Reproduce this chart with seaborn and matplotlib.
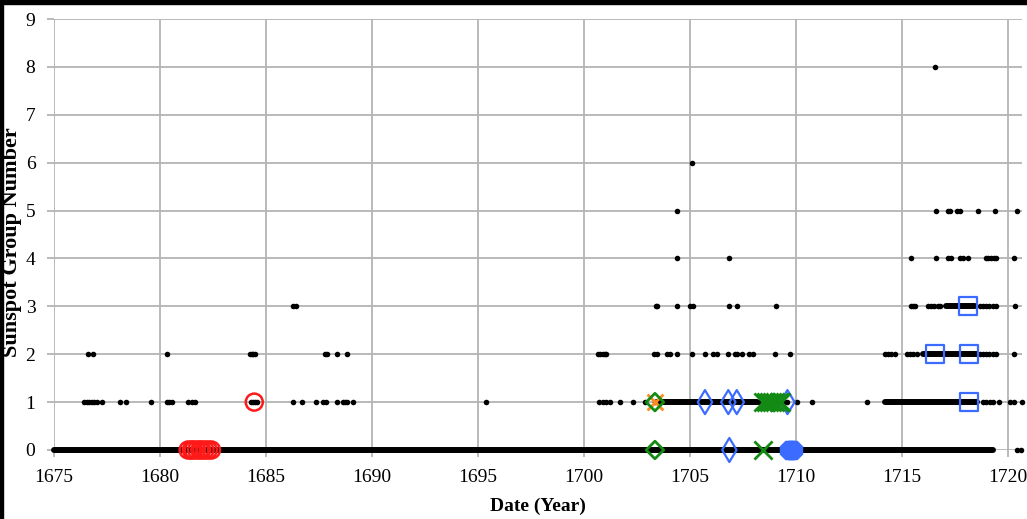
import matplotlib
matplotlib.use("Agg")
import matplotlib.pyplot as plt
import seaborn as sns
import pandas as pd
from matplotlib.patches import Rectangle

# ---------------- data ----------------
# sparse observed days, one list of dates (year) per sunspot group number
row0_years = [1720.43, 1720.66]
row1_years = [
    1676.45, 1676.57, 1676.69, 1676.80, 1676.93, 1677.04, 1677.29, 1678.14, 1678.42, 1679.60,
    1680.35, 1680.46, 1680.60, 1681.36, 1681.52, 1681.67, 1684.30, 1684.40, 1684.50, 1684.60,
    1686.31, 1686.71, 1687.38, 1687.73, 1687.84, 1688.36, 1688.64, 1688.75, 1688.83, 1689.14,
    1695.39, 1700.75, 1700.90, 1701.06, 1701.25, 1701.72, 1702.32, 1702.90, 1703.37,
    1708.30, 1708.60, 1708.90, 1709.20, 1709.45, 1709.62, 1710.06, 1710.76, 1713.36,
    1718.85, 1719.00, 1719.17, 1719.32, 1719.60, 1720.10, 1720.30, 1720.67,
]
row2_years = [
    1676.61, 1676.88, 1680.35, 1684.27, 1684.35, 1684.42, 1684.50, 1687.80, 1687.90, 1688.36, 1688.86,
    1700.70, 1700.80, 1700.90, 1701.00, 1701.06, 1703.33, 1703.48, 1703.95, 1704.08, 1704.40,
    1705.12, 1705.73, 1706.10, 1706.28, 1706.83, 1707.15, 1707.23, 1707.49, 1707.80, 1708.00,
    1709.03, 1709.74, 1714.22, 1714.35, 1714.50, 1714.70, 1715.27, 1715.40, 1715.55, 1715.72,
    1718.70, 1718.85, 1719.00, 1719.15, 1719.30, 1719.47, 1720.32,
]
row3_years = [
    1686.31, 1686.45, 1703.42, 1703.48, 1704.43, 1705.02, 1705.15, 1706.86, 1707.23, 1709.08,
    1715.45, 1715.55, 1715.64, 1716.26, 1716.40, 1716.55, 1716.70, 1716.80,
    1718.70, 1718.85, 1719.00, 1719.15, 1719.30, 1719.47, 1720.35,
]
row4_years = [
    1704.43, 1706.86, 1715.45, 1716.63, 1717.20, 1717.32, 1717.76, 1717.89, 1718.16,
    1718.99, 1719.10, 1719.22, 1719.35, 1719.47, 1720.32,
]
row5_years = [1704.43, 1716.63, 1717.20, 1717.29, 1717.63, 1717.76, 1718.60, 1719.42, 1720.43]
row6_years = [1705.12]
row8_years = [1716.60]

# dense stretches of daily observations: (start year, end year, group number)
span_start = [1675.00, 1703.45, 1714.22, 1716.00, 1717.10]
span_end = [1719.30, 1708.20, 1718.55, 1718.55, 1718.47]
span_group = [0, 1, 1, 2, 3]

# highlighted observers
red_years = [1681.35, 1681.50, 1681.60, 1681.75, 1681.90, 1682.00, 1682.15, 1682.30, 1682.45, 1684.47]
red_groups = [0, 0, 0, 0, 0, 0, 0, 0, 0, 1]
orange_years = [1703.37]
orange_groups = [1]
green_diamond_years = [1703.37, 1703.37]
green_diamond_groups = [1, 0]
blue_diamond_years = [1705.73, 1706.83, 1707.23, 1709.62, 1706.88]
blue_diamond_groups = [1, 1, 1, 1, 0]
green_x_years = [1708.45, 1708.60, 1708.75, 1708.90, 1709.05, 1709.20, 1709.30, 1708.48]
green_x_groups = [1, 1, 1, 1, 1, 1, 1, 0]
blue_fill_years = [1709.70, 1709.80, 1709.90]
blue_fill_groups = [0, 0, 0]
blue_square_years = [1718.14, 1716.60, 1718.18, 1718.18]
blue_square_groups = [3, 2, 2, 1]

x_ticks = [1675, 1680, 1685, 1690, 1695, 1700, 1705, 1710, 1715, 1720]
y_ticks = [0, 1, 2, 3, 4, 5, 6, 7, 8, 9]

# ---------------- figure ----------------
sns.set_theme(style="whitegrid")
plt.rcParams["font.family"] = ["Liberation Serif", "DejaVu Serif"]

fig = plt.figure(figsize=(10.27, 5.19), dpi=100)
ax = fig.add_axes([53.5 / 1027, 69 / 519, (1022 - 53.5) / 1027, (450 - 19) / 519])
ax.set_facecolor("white")

grid_c = "#b4b4b4"
ax.grid(True, color=grid_c, linewidth=1.3)
ax.set_axisbelow(True)
for s in ax.spines.values():
    s.set_visible(False)

# dense stretches
ax.hlines(span_group, span_start, span_end, colors="black", linewidth=4.3,
          capstyle="round", zorder=2, clip_on=False)

rows = {0: row0_years, 1: row1_years, 2: row2_years, 3: row3_years,
        4: row4_years, 5: row5_years, 6: row6_years, 8: row8_years}
dots = pd.concat([pd.DataFrame({"year": v, "groups": k}) for k, v in rows.items()],
                 ignore_index=True)
sns.scatterplot(data=dots, x="year", y="groups", ax=ax, color="black", s=16,
                linewidth=0, zorder=3, legend=False, clip_on=False)


def mk(xs, ys, **kw):
    d = pd.DataFrame({"year": xs, "groups": ys})
    sns.scatterplot(data=d, x="year", y="groups", ax=ax, legend=False,
                    clip_on=False, zorder=4, **kw)


mk(red_years, red_groups, marker="o", s=150, facecolors="none",
   edgecolor="#ff1a1a", linewidth=1.8)
mk(orange_years, orange_groups, marker="x", s=130, color="#ff8a1f", linewidth=2.0)
mk(green_diamond_years, green_diamond_groups, marker="D", s=80, facecolors="none",
   edgecolor="#138a13", linewidth=2.0)
mk(blue_diamond_years, blue_diamond_groups, marker="d", s=150, facecolors="none",
   edgecolor="#3c6cff", linewidth=1.6)
mk(green_x_years, green_x_groups, marker="x", s=170, color="#138a13", linewidth=2.0)
mk(blue_fill_years, blue_fill_groups, marker="8", s=230, color="#3c6cff", linewidth=0)
mk(blue_square_years, blue_square_groups, marker="s", s=170, facecolors="none",
   edgecolor="#3c6cff", linewidth=1.6)

ax.set_xlim(1675, 1675 + (1022 - 53.5) / 21.2)
ax.set_ylim(0, 9)
ax.set_xticks(x_ticks)
ax.set_yticks(y_ticks)
ax.tick_params(axis="both", which="major", length=5, color=grid_c, width=1.3,
               labelsize=14, labelcolor="black", bottom=True, left=True)
ax.tick_params(axis="x", pad=9)
ax.tick_params(axis="y", pad=8)

ax.set_xlabel("Date (Year)", fontsize=14, fontweight="bold", color="black")
ax.set_ylabel("Sunspot Group Number", fontsize=16, fontweight="bold", color="black")
ax.xaxis.set_label_coords(0.5, -(506 - 450) / 431)
ax.xaxis.label.set_va("center")
ax.yaxis.set_label_coords((12 - 53.5) / 968.5, (450 - 242) / 431)
ax.yaxis.label.set_va("center")

# black borders of the original scan
fig.patches.append(Rectangle((0, 1 - 4 / 519), 1, 4 / 519, transform=fig.transFigure,
                             color="black", zorder=10))
fig.patches.append(Rectangle((0, 0), 3 / 1027, 1, transform=fig.transFigure,
                             color="black", zorder=10))

fig.savefig("out.png", dpi=100, facecolor="white")
